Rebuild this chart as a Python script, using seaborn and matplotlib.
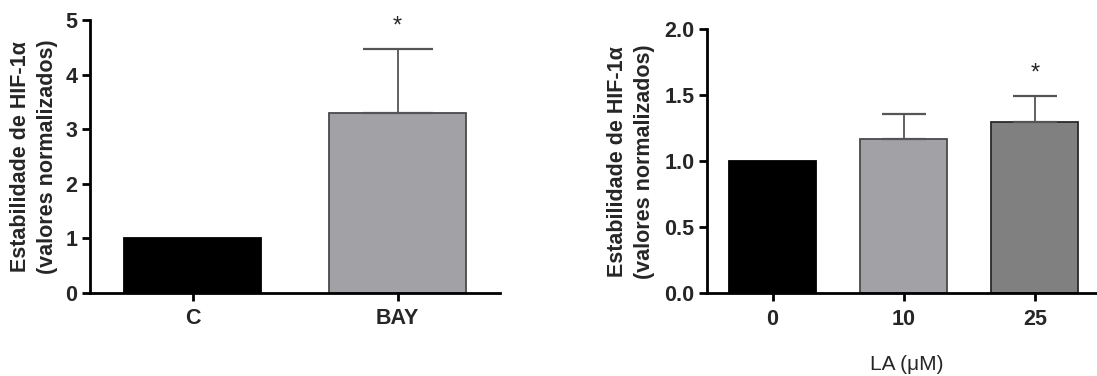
import matplotlib
matplotlib.use("Agg")
import matplotlib.pyplot as plt
import seaborn as sns
import pandas as pd

# ---- data ----
left_cats = ["C", "BAY"]
left_vals = [1.0, 3.29]
left_err = [0.0, 1.17]
left_sig = ["", "*"]

right_cats = ["0", "10", "25"]
right_vals = [1.0, 1.17, 1.30]
right_err = [0.0, 0.185, 0.195]
right_sig = ["", "", "*"]

left_colors = ["#000000", "#a2a2a6"]
right_colors = ["#000000", "#a2a2a6", "#808080"]
left_edges = ["#000000", "#4a4a4a"]
right_edges = ["#000000", "#4a4a4a", "#2a2a2a"]

ylabel = "Estabilidade de HIF-1α\n(valores normalizados)"

sns.set_theme(style="ticks")
plt.rcParams["font.family"] = ["Liberation Sans", "DejaVu Sans"]

fig = plt.figure(figsize=(10.97, 3.76), dpi=100)
ax1 = fig.add_axes([90 / 1097, 1 - 293 / 376, 410 / 1097, 273 / 376])
ax2 = fig.add_axes([707 / 1097, 1 - 293.3 / 376, 400 / 1097, 264 / 376])


def draw(ax, cats, vals, errs, sig, colors, edges, ylim, yticks, fmt, capsize, star_off):
    df = pd.DataFrame({"cat": cats, "val": vals})
    sns.barplot(data=df, x="cat", y="val", hue="cat", palette=colors,
                legend=False, width=0.665, ax=ax, saturation=1)
    for p, ec in zip(ax.patches, edges):
        p.set_edgecolor(ec)
        p.set_linewidth(1.3)
    for i, (v, e) in enumerate(zip(vals, errs)):
        if e > 0:
            ax.errorbar(i, v, yerr=[[0], [e]], fmt="none", ecolor="#555555",
                        elinewidth=1.3, capsize=capsize, capthick=1.6, zorder=1)
        if sig[i]:
            ax.text(i, v + e + star_off, sig[i], ha="center", va="center",
                    fontsize=17)
    ax.set_ylim(*ylim)
    ax.set_yticks(yticks)
    ax.set_yticklabels([fmt.format(t) for t in yticks], fontsize=15.5, fontweight="bold")
    ax.set_xticks(range(len(cats)))
    ax.set_xticklabels(cats, fontsize=15.5, fontweight="bold")
    ax.set_xlim(-0.5, len(cats) - 0.5 if len(cats) == 2 else 2.55)
    ax.set_ylabel(ylabel, fontsize=15.5, fontweight="bold", linespacing=1.35)
    ax.set_xlabel("")
    for s in ["top", "right"]:
        ax.spines[s].set_visible(False)
    for s in ["left", "bottom"]:
        ax.spines[s].set_linewidth(2)
        ax.spines[s].set_color("black")
    ax.tick_params(axis="both", width=2, length=6, color="black", pad=3)
    ax.tick_params(axis="x", pad=5)


draw(ax1, left_cats, left_vals, left_err, left_sig, left_colors, left_edges,
     (0, 5), [0, 1, 2, 3, 4, 5], "{:.0f}", 25, 0.42)
draw(ax2, right_cats, right_vals, right_err, right_sig, right_colors, right_edges,
     (0, 2.0), [0.0, 0.5, 1.0, 1.5, 2.0], "{:.1f}", 16, 0.17)

ax1.yaxis.set_label_coords(-0.078, 0.5)
ax2.yaxis.set_label_coords(-0.13, 0.5)
ax2.set_xlabel("LA (μM)", fontsize=15, labelpad=18)

fig.savefig("out.png", dpi=100)
